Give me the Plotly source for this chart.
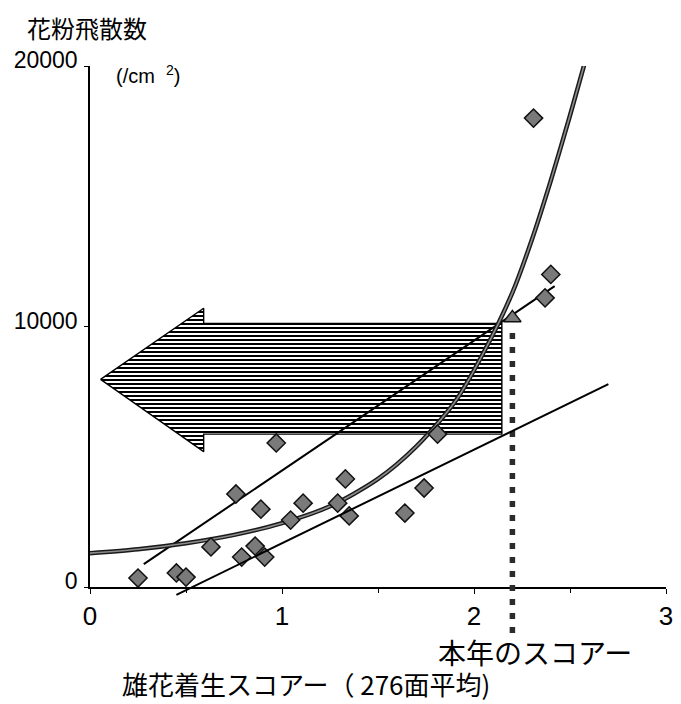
import plotly.graph_objects as go

# Male flower score (276-plot mean) vs. airborne pollen count (/cm2)
score = [0.25, 0.45, 0.50, 0.63, 0.76, 0.79, 0.86, 0.89, 0.91, 0.97, 1.045,
         1.11, 1.29, 1.33, 1.35, 1.64, 1.74, 1.81, 2.31, 2.37, 2.40]
pollen = [345, 540, 380, 1540, 3570, 1150, 1570, 2990, 1150, 5530, 2570,
          3220, 3220, 4150, 2730, 2840, 3800, 5870, 18000, 11100, 12000]

# curved trend
curve_x = [0.0, 0.25, 0.5, 0.75, 1.0, 1.25, 1.5, 1.7, 1.9, 2.05, 2.2, 2.3, 2.4, 2.5, 2.58]
curve_y = [1300, 1450, 1680, 2000, 2450, 3100, 4150, 5400, 7100, 9000, 11300, 13300, 15600, 18100, 20200]

# straight trends
upper_x = [0.28, 2.42]
upper_y = [880, 11550]
lower_x = [0.45, 2.70]
lower_y = [-300, 7790]

# this year's score
this_year_score = [2.20]
this_year_pollen = [10330]
drop_x = [2.20, 2.20]
drop_y = [9750, -1880]

# big left-pointing arrow
arrow_x = [0.055, 0.592, 0.592, 2.145, 2.145, 0.592, 0.592, 0.055]
arrow_y = [7970, 10700, 10120, 10120, 5870, 5870, 5195, 7970]

x_ticks = [0, 1, 2, 3]
y_ticks = [0, 10000, 20000]
y_low = -1880
y_top = 20000

W, H = 681, 704
ML, MR, MT, MB = 90, 8, 66, 68
pw, ph = W - ML - MR, H - MT - MB


def px(x):
    return (x - ML) / pw


def py(y):
    return (H - MB - y) / ph


jp = "Noto Sans CJK JP"
num = "Liberation Sans, Arial, sans-serif"

fig = go.Figure()

fig.add_trace(go.Scatter(
    x=arrow_x, y=arrow_y, mode="lines", fill="toself",
    line=dict(color="black", width=1.4),
    fillcolor="white",
    fillpattern=dict(shape="-", size=4, solidity=0.5, fgcolor="black",
                     bgcolor="white", fgopacity=1),
    hoverinfo="skip", showlegend=False))

fig.add_trace(go.Scatter(
    x=drop_x, y=drop_y, yaxis="y2", mode="lines",
    line=dict(color="#2b2b2b", width=5.5, dash="6px,8px"),
    showlegend=False))

fig.add_trace(go.Scatter(
    x=upper_x, y=upper_y, mode="lines",
    line=dict(color="black", width=2), showlegend=False))

fig.add_trace(go.Scatter(
    x=lower_x, y=lower_y, yaxis="y2", mode="lines",
    line=dict(color="black", width=2), showlegend=False))

fig.add_trace(go.Scatter(
    x=curve_x, y=curve_y, mode="lines", line_shape="spline",
    line=dict(color="#1a1a1a", width=4.5, smoothing=0.8), showlegend=False))
fig.add_trace(go.Scatter(
    x=curve_x, y=curve_y, mode="lines", line_shape="spline",
    line=dict(color="#8c8c8c", width=1.6, smoothing=0.8), showlegend=False))

fig.add_trace(go.Scatter(
    x=score, y=pollen, mode="markers",
    marker=dict(symbol="diamond", size=14, color="#7a7a7a",
                line=dict(color="#111", width=1.5)),
    showlegend=False))

fig.add_trace(go.Scatter(
    x=this_year_score, y=this_year_pollen, mode="markers",
    marker=dict(symbol="triangle-up", size=15, color="#7a7a7a",
                line=dict(color="#111", width=1.5)),
    showlegend=False))

frac = (0 - y_low) / (y_top - y_low)

fig.update_layout(
    width=W, height=H,
    margin=dict(l=ML, r=MR, t=MT, b=MB),
    paper_bgcolor="white", plot_bgcolor="rgba(0,0,0,0)",
    xaxis=dict(range=[0, 3], domain=[0, 1], anchor="y",
               tickvals=x_ticks, ticktext=[str(v) for v in x_ticks],
               ticks="outside", ticklen=5, tickcolor="black",
               minor=dict(dtick=0.5, ticks="outside", ticklen=4, tickcolor="black"),
               showline=True, linecolor="black", linewidth=1.5,
               showgrid=False, zeroline=False,
               ticklabelstandoff=0,
               tickfont=dict(family=num, size=26, color="black")),
    yaxis=dict(range=[0, y_top], domain=[frac, 1], anchor="x",
               tickvals=y_ticks, ticktext=[str(v) for v in y_ticks],
               ticks="outside", ticklen=4, tickcolor="black",
               showline=True, linecolor="black", linewidth=1.5,
               showgrid=False, zeroline=False,
               ticklabelshift=-6, ticklabelstandoff=2,
               tickfont=dict(family=num, size=23, color="black")),
    yaxis2=dict(range=[y_low, y_top], domain=[0, 1], anchor="x",
                visible=False, showgrid=False, zeroline=False),
    annotations=[
        dict(text="花粉飛散数", xref="paper", yref="paper",
             x=px(24), y=py(27), xanchor="left", yanchor="middle",
             showarrow=False, font=dict(family=jp, size=24, color="black")),
        dict(text="(/cm  <sup>2</sup>)", xref="paper", yref="paper",
             x=px(114), y=py(74), xanchor="left", yanchor="middle",
             showarrow=False, font=dict(family=num, size=20, color="black")),
        dict(text="本年のスコアー", xref="paper", yref="paper",
             x=px(540), y=py(652), xanchor="center", yanchor="middle",
             showarrow=False, font=dict(family=jp, size=28, color="black")),
        dict(text="雄花着生スコアー（ 276面平均)", xref="paper", yref="paper",
             x=px(120), y=py(683), xanchor="left", yanchor="middle",
             showarrow=False, font=dict(family=jp, size=26, color="black")),
    ],
)

fig.write_html("out.html")
